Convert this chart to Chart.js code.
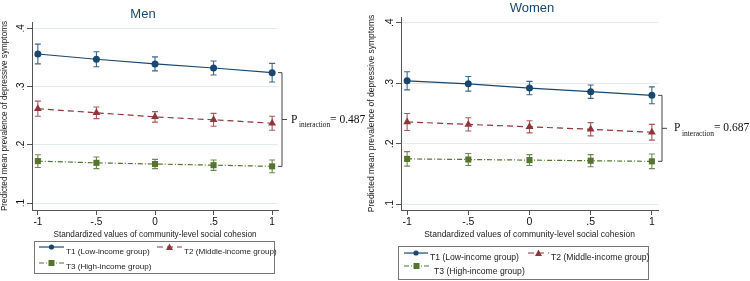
<!DOCTYPE html>
<html>
<head>
<meta charset="utf-8">
<script src="https://cdn.jsdelivr.net/npm/chart.js@4.4.0/dist/chart.umd.min.js"></script>
<style>
body { margin: 0; background: #fff; font-family: "Liberation Sans", Arial, sans-serif; }
#wrap { position: relative; width: 750px; height: 281px; overflow: hidden; }
canvas { position: absolute; top: 0; }
#men-chart { left: 0; }
#women-chart { left: 360px; }
.title { position: absolute; color: #1a476f; font-size: 13px; transform: translate(-50%, -50%); white-space: nowrap; }
.legend { position: absolute; border: 1px solid #777; box-sizing: border-box; color: #222; }
.entry { position: absolute; white-space: nowrap; transform: translateY(-50%); line-height: 1; }
.entry svg { position: absolute; top: 50%; transform: translateY(-50%); }
</style>
</head>
<body>
<div id="wrap">
  <canvas id="men-chart" width="375" height="281"></canvas>
  <canvas id="women-chart" width="390" height="281"></canvas>
  <div class="title" style="left:143px; top:13px;">Men</div>
  <div class="title" style="left:532px; top:7px;">Women</div>
  <div class="legend" id="men-legend" style="left:34px; top:241px; width:241px; height:33px; font-size:8.1px;"></div>
  <div class="legend" id="women-legend" style="left:398px; top:246px; width:251px; height:34px; font-size:8.6px;"></div>
</div>
<script>
const xValues = [-1, -0.5, 0, 0.5, 1];
const xTickLabels = ['-1', '-.5', '0', '.5', '1'];
const yTickValues = [0.1, 0.2, 0.3, 0.4];
const yTickLabels = ['.1', '.2', '.3', '.4'];
const seriesNames = ['T1 (Low-income group)', 'T2 (Middle-income group)', 'T3 (High-income group)'];

const menT1 = [0.356, 0.347, 0.339, 0.332, 0.324];
const menT2 = [0.262, 0.255, 0.248, 0.243, 0.237];
const menT3 = [0.172, 0.169, 0.167, 0.165, 0.163];
const menT1Ci = [0.017, 0.013, 0.012, 0.012, 0.016];
const menT2Ci = [0.013, 0.010, 0.009, 0.011, 0.012];
const menT3Ci = [0.011, 0.010, 0.008, 0.009, 0.011];

const womenT1 = [0.304, 0.299, 0.292, 0.286, 0.280];
const womenT2 = [0.236, 0.232, 0.228, 0.224, 0.219];
const womenT3 = [0.175, 0.174, 0.173, 0.172, 0.171];
const womenT1Ci = [0.015, 0.012, 0.011, 0.011, 0.014];
const womenT2Ci = [0.014, 0.011, 0.010, 0.011, 0.013];
const womenT3Ci = [0.012, 0.010, 0.009, 0.010, 0.012];

const pValues = ['0.487', '0.687'];

const colors = ['#1a476f', '#90353b', '#55752f'];
const ciColors = ['#3f6688', '#a65a60', '#6f8a50'];
const dashes = [[], [6, 4], [5, 2, 1, 2]];
const markers = ['circle', 'triangle', 'rect'];
const markerSizes = [3.5, 4.5, 4.3];

// draws the confidence interval whiskers
const errorBars = {
    id: 'errorBars',
    beforeDatasetsDraw(chart) {
        const { ctx, scales: { x, y } } = chart;
        chart.data.datasets.forEach((ds, k) => {
            ctx.save();
            ctx.strokeStyle = ciColors[k];
            ctx.lineWidth = 1.1;
            ds.data.forEach((pt, i) => {
                const px = x.getPixelForValue(pt.x);
                const top = y.getPixelForValue(pt.y + ds.ci[i]);
                const bot = y.getPixelForValue(pt.y - ds.ci[i]);
                ctx.beginPath();
                ctx.moveTo(px, top); ctx.lineTo(px, bot);
                ctx.moveTo(px - 3, top); ctx.lineTo(px + 3, top);
                ctx.moveTo(px - 3, bot); ctx.lineTo(px + 3, bot);
                ctx.stroke();
            });
            ctx.restore();
        });
    }
};

// rotated y tick labels, bracket and P for interaction
const extras = {
    id: 'extras',
    afterDraw(chart, args, opts) {
        const { ctx, chartArea, scales: { y } } = chart;
        ctx.save();
        ctx.fillStyle = '#111';
        ctx.font = opts.tickFont + 'px "Liberation Sans", Arial';
        ctx.textAlign = 'center';
        ctx.textBaseline = 'middle';
        yTickValues.forEach((v, i) => {
            ctx.save();
            ctx.translate(chartArea.left - 11, y.getPixelForValue(v));
            ctx.rotate(-Math.PI / 2);
            ctx.fillText(yTickLabels[i], 0, 0);
            ctx.restore();
        });

        const ds = chart.data.datasets;
        const last = ds[0].data.length - 1;
        const y1 = y.getPixelForValue(ds[0].data[last].y);
        const y3 = y.getPixelForValue(ds[2].data[last].y);
        const mid = (y1 + y3) / 2;
        const bx = chartArea.right + 4;
        ctx.strokeStyle = '#444';
        ctx.lineWidth = 1;
        ctx.beginPath();
        ctx.moveTo(chartArea.right, y1); ctx.lineTo(bx, y1);
        ctx.lineTo(bx, y3); ctx.lineTo(chartArea.right, y3);
        ctx.moveTo(bx, mid); ctx.lineTo(bx + 5, mid);
        ctx.stroke();

        ctx.textAlign = 'left';
        let tx = chartArea.right + opts.gap;
        ctx.font = '11.5px "Liberation Serif", "Times New Roman", serif';
        ctx.fillText('P', tx, mid);
        tx += ctx.measureText('P').width + 1.5;
        ctx.font = opts.subFont + 'px "Liberation Serif", "Times New Roman", serif';
        ctx.fillText('interaction', tx, mid + 5.5);
        tx += ctx.measureText('interaction').width;
        ctx.font = '11.5px "Liberation Serif", "Times New Roman", serif';
        ctx.fillText('= ' + opts.value, tx, mid);
        ctx.restore();
    }
};

function makeDatasets(values, cis) {
    return values.map((vals, k) => ({
        label: seriesNames[k],
        data: vals.map((v, i) => ({ x: xValues[i], y: v })),
        ci: cis[k],
        borderColor: colors[k],
        backgroundColor: colors[k],
        borderWidth: 1.2,
        borderDash: dashes[k],
        pointStyle: markers[k],
        pointRadius: markerSizes[k],
        pointBorderWidth: 0,
        tension: 0
    }));
}

function makeChart(id, datasets, cfg) {
    const ctx = document.getElementById(id).getContext('2d');
    return new Chart(ctx, {
        type: 'line',
        data: { datasets: datasets },
        options: {
            responsive: false,
            animation: false,
            events: [],
            layout: { padding: cfg.padding },
            plugins: {
                legend: { display: false },
                tooltip: { enabled: false },
                extras: { value: cfg.p, gap: cfg.gap, tickFont: cfg.tickFont, subFont: cfg.subFont }
            },
            scales: {
                x: {
                    type: 'linear',
                    min: -1.05,
                    max: 1.05,
                    afterBuildTicks: s => { s.ticks = xValues.map(v => ({ value: v })); },
                    afterFit: s => { s.height = 30; },
                    ticks: {
                        padding: 1,
                        color: '#111',
                        font: { size: cfg.tickFont, family: '"Liberation Sans", Arial' },
                        callback: (v) => xTickLabels[xValues.indexOf(v)],
                        maxRotation: 0
                    },
                    grid: { drawOnChartArea: false, tickLength: 5, tickColor: '#555' },
                    border: { color: '#555' },
                    title: {
                        display: true,
                        text: 'Standardized values of community-level social cohesion',
                        color: '#222',
                        padding: 0,
                        font: { size: cfg.axisFont, family: '"Liberation Sans", Arial' }
                    }
                },
                y: {
                    min: cfg.yMin,
                    max: cfg.yMax,
                    afterBuildTicks: s => { s.ticks = yTickValues.map(v => ({ value: v })); },
                    afterFit: s => { s.width = cfg.yWidth; },
                    ticks: { display: false },
                    grid: { color: '#e2ecef', tickLength: 5, tickColor: '#555' },
                    border: { color: '#555' },
                    title: {
                        display: true,
                        text: 'Predicted mean prevalence of depressive symptoms',
                        color: '#222',
                        padding: 0,
                        font: { size: cfg.axisFont, family: '"Liberation Sans", Arial' }
                    }
                }
            }
        },
        plugins: [errorBars, extras]
    });
}

makeChart('men-chart', makeDatasets([menT1, menT2, menT3], [menT1Ci, menT2Ci, menT3Ci]), {
    padding: { left: 0, top: 22, right: 97, bottom: 41 },
    yMin: 0.088, yMax: 0.411, yWidth: 32,
    p: pValues[0], gap: 13, tickFont: 10, subFont: 7.3, axisFont: 8.2
});

makeChart('women-chart', makeDatasets([womenT1, womenT2, womenT3], [womenT1Ci, womenT2Ci, womenT3Ci]), {
    padding: { left: 7, top: 17, right: 92, bottom: 41 },
    yMin: 0.0906, yMax: 0.4094, yWidth: 34,
    p: pValues[1], gap: 16, tickFont: 10.5, subFont: 7.5, axisFont: 8.5
});

// legend samples drawn as svg next to the labels
function sampleSvg(k, w) {
    const mid = w / 2;
    let marker;
    if (markers[k] === 'circle') {
        marker = `<circle cx="${mid}" cy="5" r="2.6" fill="${colors[k]}"/>`;
    } else if (markers[k] === 'triangle') {
        marker = `<polygon points="${mid},1.5 ${mid + 3.5},8 ${mid - 3.5},8" fill="${colors[k]}"/>`;
    } else {
        marker = `<rect x="${mid - 3}" y="2" width="6" height="6" fill="${colors[k]}"/>`;
    }
    const dash = dashes[k].length ? `stroke-dasharray="${dashes[k].join(',')}"` : '';
    return `<svg width="${w}" height="10"><line x1="0" y1="5" x2="${w}" y2="5" stroke="${colors[k]}" stroke-width="1.2" ${dash}/>${marker}</svg>`;
}

function buildLegend(id, layout) {
    const box = document.getElementById(id);
    layout.forEach((e, k) => {
        const div = document.createElement('div');
        div.className = 'entry';
        div.style.left = e.sx + 'px';
        div.style.top = e.y + 'px';
        div.style.height = '10px';
        div.innerHTML = `<span style="position:absolute;left:0;">${sampleSvg(k, e.sw)}</span>` +
            `<span style="position:absolute;left:${e.tx - e.sx}px;top:0.5px;">${seriesNames[k]}</span>`;
        box.appendChild(div);
    });
}

buildLegend('men-legend', [
    { sx: 4, sw: 25, tx: 31, y: 10 },
    { sx: 122, sw: 25, tx: 149, y: 10 },
    { sx: 4, sw: 25, tx: 31, y: 25.5 }
]);
buildLegend('women-legend', [
    { sx: 5, sw: 24, tx: 31, y: 10.5 },
    { sx: 129, sw: 21, tx: 152, y: 10.5 },
    { sx: 5, sw: 25, tx: 35, y: 24 }
]);
</script>
</body>
</html>
